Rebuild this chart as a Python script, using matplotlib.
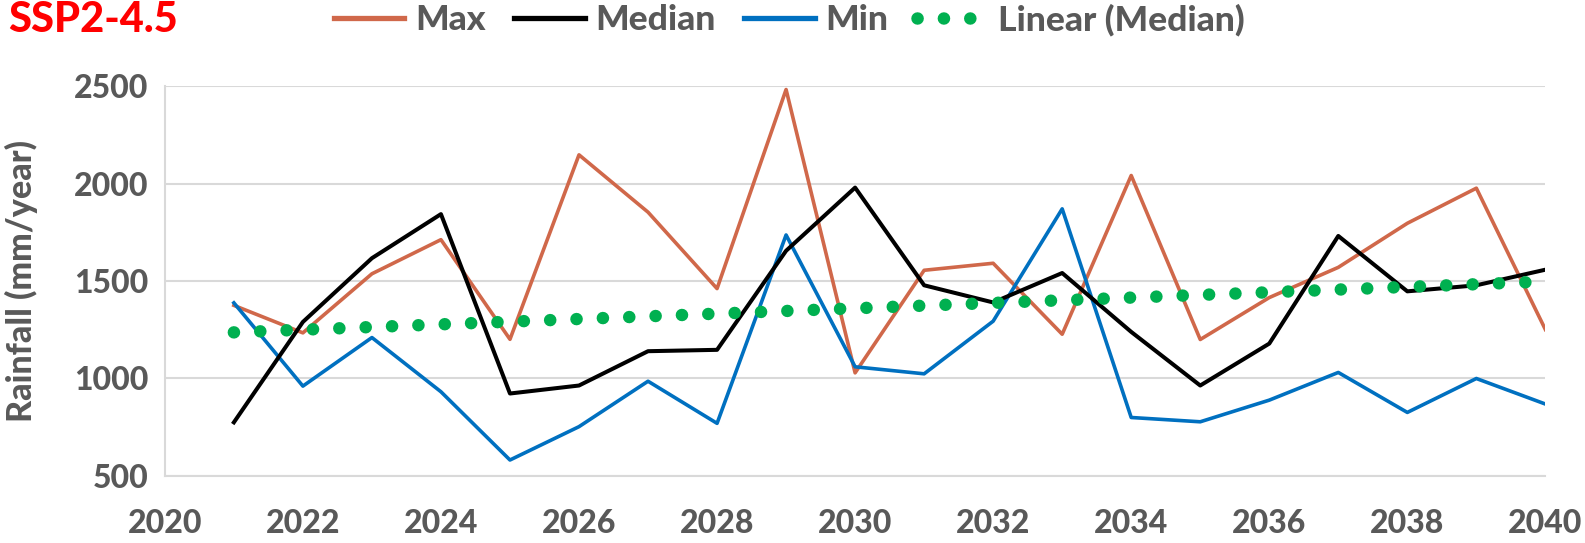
import numpy as np
import matplotlib
matplotlib.use("Agg")
import matplotlib.pyplot as plt

years = list(range(2021, 2041))
max_vals = [1375, 1234, 1537, 1712, 1201, 2147, 1853, 1461, 2482, 1029,
            1555, 1591, 1227, 2041, 1200, 1415, 1570, 1796, 1976, 1251]
median_vals = [775, 1290, 1617, 1843, 923, 964, 1140, 1147, 1655, 1979,
               1478, 1390, 1541, 1239, 964, 1179, 1731, 1447, 1478, 1558]
min_vals = [1388, 961, 1210, 932, 582, 753, 986, 770, 1736, 1060,
            1024, 1294, 1870, 800, 778, 889, 1031, 826, 1000, 869]
x_ticks = list(range(2020, 2041, 2))
y_ticks = [500, 1000, 1500, 2000, 2500]

plt.rcParams['font.family'] = ['Lato', 'DejaVu Sans']
W = 900
plt.rcParams['font.weight'] = W
gray = '#595959'

fig = plt.figure(figsize=(15.85, 5.43), dpi=100)
ax = fig.add_axes([0.104, 0.1234, 0.871, 0.7182])

x = np.array(years)
coef = np.polyfit(x, np.array(median_vals), 1)
trend = np.polyval(coef, x)

ax.plot(x, max_vals, color='#D0684A', lw=2.6, label='Max', zorder=3)
ax.plot(x, median_vals, color='black', lw=2.9, label='Median', zorder=4)
ax.plot(x, min_vals, color='#0070C0', lw=2.6, label='Min', zorder=3)
ax.plot(x, trend, color='#00B050', lw=9, linestyle=(0, (0.01, 2.1)),
        dash_capstyle='round', label='Linear (Median)', zorder=5)

ax.set_xlim(2020, 2040)
ax.set_ylim(500, 2500)
ax.set_xticks(x_ticks)
ax.set_yticks(y_ticks)
ax.tick_params(axis='both', length=0, labelsize=23, labelcolor=gray)
ax.tick_params(axis='x', pad=24)
ax.tick_params(axis='y', pad=12)
for lbl in ax.get_xticklabels() + ax.get_yticklabels():
    lbl.set_fontweight(W)
ax.grid(axis='y', color='#D9D9D9', lw=1.5)
ax.set_axisbelow(True)
for s in ['top', 'right']:
    ax.spines[s].set_visible(False)
ax.spines['left'].set_color('#D9D9D9')
ax.spines['left'].set_linewidth(1.5)
ax.spines['bottom'].set_color('#D9D9D9')
ax.spines['bottom'].set_linewidth(1.5)

ax.set_ylabel('Rainfall (mm/year)', fontsize=24.5, color=gray, fontweight=W)
ax.yaxis.set_label_coords(-0.092, 0.50)

fig.text(0.005, 0.963, 'SSP2-4.5', color='#FF0000', fontsize=30,
         fontweight=W, va='center', ha='left')

leg = fig.legend(loc='center', bbox_to_anchor=(0.498, 0.963), ncol=4,
                 frameon=False, handlelength=2.0,
                 columnspacing=0.8, handletextpad=0.3,
                 prop={'family': ['Lato', 'DejaVu Sans'], 'weight': W, 'size': 25.5})
for t in leg.get_texts():
    t.set_color(gray)
for h in leg.legend_handles[:3]:
    h.set_linewidth(3.8)

fig.savefig('out.png', dpi=100)
